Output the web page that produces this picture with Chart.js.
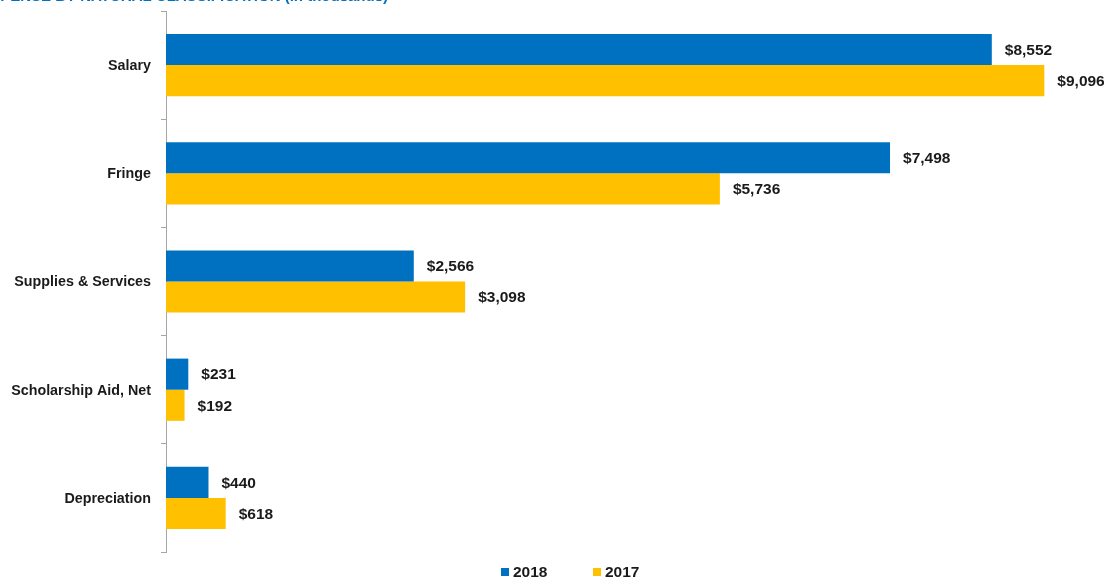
<!DOCTYPE html>
<html>
<head>
<meta charset="utf-8">
<script src="https://cdn.jsdelivr.net/npm/chart.js@4"></script>
<style>
  html, body { margin: 0; padding: 0; background: #fff; }
  #wrap { width: 1109px; height: 579px; }
</style>
</head>
<body>
<div id="wrap"><canvas id="chart"></canvas></div>
<script>
let categories = ['Salary', 'Fringe', 'Supplies & Services', 'Scholarship Aid, Net', 'Depreciation'];
let values2018 = [8552, 7498, 2566, 231, 440];
let values2017 = [9096, 5736, 3098, 192, 618];
let seriesNames = ['2018', '2017'];
let seriesColors = ['#0070C0', '#FFC000'];
let titleText = 'EXPENSE BY NATURAL CLASSIFICATION (in thousands)';

let fontFamily = '"Liberation Sans", Arial, sans-serif';
let textColor = '#1a1a1a';

// value labels to the right of every bar
let barLabels = {
    id: 'barLabels',
    afterDatasetsDraw(chart) {
        let ctx = chart.ctx;
        ctx.save();
        ctx.font = 'bold 15.5px ' + fontFamily;
        ctx.fillStyle = textColor;
        ctx.textAlign = 'left';
        ctx.textBaseline = 'middle';
        chart.data.datasets.forEach((ds, i) => {
            chart.getDatasetMeta(i).data.forEach((bar, j) => {
                let txt = '$' + ds.data[j].toLocaleString('en-US');
                ctx.fillText(txt, bar.x + 13, bar.y + 1);
            });
        });
        ctx.restore();
    }
};

// heading along the top edge
let heading = {
    id: 'heading',
    afterDraw(chart) {
        let ctx = chart.ctx;
        ctx.save();
        ctx.font = 'bold 15px ' + fontFamily;
        ctx.fillStyle = '#0070C0';
        ctx.textAlign = 'right';
        ctx.textBaseline = 'alphabetic';
        ctx.fillText(titleText, 388, 1);
        ctx.restore();
    }
};

// small square legend under the plot, spaced wider than the built-in one
let bottomLegend = {
    id: 'bottomLegend',
    afterDraw(chart) {
        let ctx = chart.ctx;
        let xs = [501, 593];
        let y = 572;
        ctx.save();
        ctx.font = 'bold 15.5px ' + fontFamily;
        ctx.textAlign = 'left';
        ctx.textBaseline = 'middle';
        chart.data.datasets.forEach((ds, i) => {
            ctx.fillStyle = ds.backgroundColor;
            ctx.fillRect(xs[i], y - 4, 8, 8);
            ctx.fillStyle = textColor;
            ctx.fillText(ds.label, xs[i] + 12, y + 1);
        });
        ctx.restore();
    }
};

let chart = new Chart(document.getElementById('chart'), {
    type: 'bar',
    data: {
        labels: categories,
        datasets: [{
            label: seriesNames[0],
            data: values2018,
            backgroundColor: seriesColors[0]
        }, {
            label: seriesNames[1],
            data: values2017,
            backgroundColor: seriesColors[1]
        }]
    },
    options: {
        indexAxis: 'y',
        responsive: true,
        maintainAspectRatio: false,
        animation: false,
        layout: { padding: { top: 11, right: 16, left: 0, bottom: 27 } },
        datasets: {
            bar: { categoryPercentage: 0.575, barPercentage: 1.0 }
        },
        scales: {
            x: {
                display: false,
                min: 0,
                max: 9600
            },
            y: {
                afterFit: s => {
                    s.width = 166;
                    s.paddingTop = 0;
                    s.paddingBottom = 0;
                },
                grid: {
                    drawOnChartArea: false,
                    tickLength: 5,
                    color: '#A6A6A6'
                },
                border: { color: '#A6A6A6', width: 1 },
                ticks: {
                    padding: 10,
                    labelOffset: 1,
                    color: textColor,
                    font: { family: fontFamily, size: 14.3, weight: 'bold' }
                }
            }
        },
        plugins: {
            legend: { display: false },
            tooltip: { enabled: false }
        }
    },
    plugins: [barLabels, heading, bottomLegend]
});
</script>
</body>
</html>
